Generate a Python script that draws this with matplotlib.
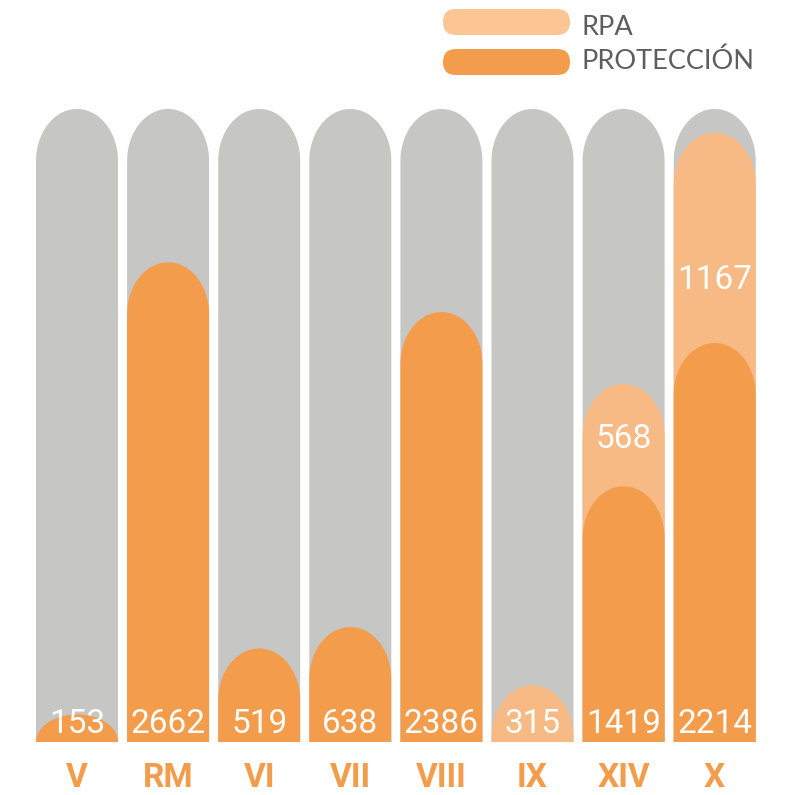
import numpy as np
import matplotlib
matplotlib.use("Agg")
import matplotlib.pyplot as plt
from matplotlib.patches import Polygon, FancyBboxPatch

# datos
regiones = ["V", "RM", "VI", "VII", "VIII", "IX", "XIV", "X"]
proteccion = [153, 2662, 519, 638, 2386, 0, 1419, 2214]
rpa = [0, 0, 0, 0, 0, 315, 568, 1167]
fondo = 3513  # altura de la barra gris de fondo

# colores
GRIS = "#C6C6C5"
NARANJA = "#F39C4B"
CLARO = "#F8BA84"
CLARO_LEY = "#FCC594"
TEXTO = "#5E5E5E"

W, H = 788, 795
fig = plt.figure(figsize=(W / 100, H / 100), dpi=100)

# escala: pixeles por unidad y posicion de las barras
ppu = 0.1802
base_px = 742
x0_px, paso_px = 77, 91.1
ymax = 3600
ax = fig.add_axes([(x0_px - paso_px / 2) / W, (H - base_px) / H,
                   8 * paso_px / W, ymax * ppu / H])
ax.set_xlim(-0.5, 7.5)
ax.set_ylim(0, ymax)
ax.axis("off")

rx = 0.45
ry = 52 / ppu


def pildora(x, top, color, z):
    r = min(ry, top)
    cy = top - r
    t = np.linspace(0, np.pi, 80)
    xs = list(x + rx * np.cos(t)) + [x - rx, x + rx]
    ys = list(cy + r * np.sin(t)) + [-50, -50]
    ax.add_patch(Polygon(np.column_stack([xs, ys]), closed=True,
                         facecolor=color, edgecolor="none", zorder=z))


# posicion vertical de la etiqueta RPA (fraccion del tramo RPA)
frac_rpa = [0, 0, 0, 0, 0, 0, 0.375, 0.257]

fnum = dict(family=["Roboto", "DejaVu Sans"], fontsize=24, color="white")
for i, reg in enumerate(regiones):
    pildora(i, fondo, GRIS, 1)
    total = proteccion[i] + rpa[i]
    if rpa[i] > 0:
        pildora(i, total, CLARO, 2)
    if proteccion[i] > 0:
        pildora(i, proteccion[i], NARANJA, 3)
    # etiqueta inferior
    y_base = 9 / ppu
    if proteccion[i] > 0:
        ax.text(i, y_base, str(proteccion[i]), ha="center", va="baseline",
                zorder=5, clip_on=False, **fnum)
        if rpa[i] > 0:
            ax.text(i, proteccion[i] + frac_rpa[i] * rpa[i], str(rpa[i]),
                    ha="center", va="baseline", zorder=5, **fnum)
    else:
        ax.text(i, y_base, str(rpa[i]), ha="center", va="baseline",
                zorder=5, clip_on=False, **fnum)
    ax.text(i, -45 / ppu, reg, ha="center", va="baseline", fontsize=24,
            fontweight="bold", color=NARANJA, family=["Roboto", "DejaVu Sans"],
            clip_on=False)

# leyenda en coordenadas de pixel
lax = fig.add_axes([0, 0, 1, 1], facecolor="none")
lax.set_xlim(0, W)
lax.set_ylim(H, 0)
lax.axis("off")
for y, color, nombre, base in [(9, CLARO_LEY, "RPA", 35),
                               (49, NARANJA, "PROTECCIÓN", 69)]:
    lax.add_patch(FancyBboxPatch((443, y), 127, 26,
                                 boxstyle="round,pad=0,rounding_size=13",
                                 facecolor=color, edgecolor="none"))
    lax.text(582, base, nombre, ha="left", va="baseline", fontsize=19.5,
             color=TEXTO, family=["Lato", "DejaVu Sans"])

fig.savefig("out.png", dpi=100)
